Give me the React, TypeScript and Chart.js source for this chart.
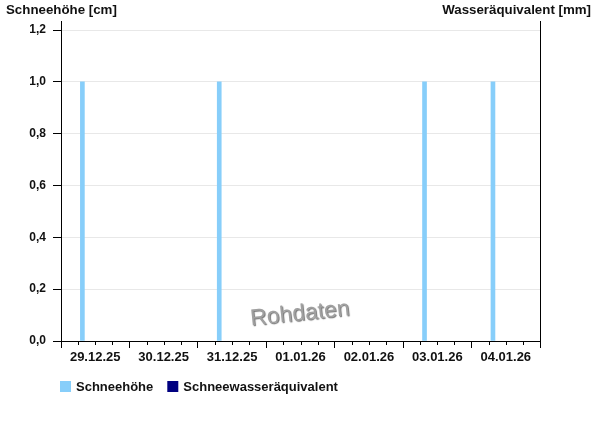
import React, { useEffect, useRef } from "react";
import { Chart, registerables } from "chart.js";

Chart.register(...registerables);

// ---- data ----
const dayLabels = ["29.12.25", "30.12.25", "31.12.25", "01.01.26", "02.01.26", "03.01.26", "04.01.26"];
const measureTimes = ["29.12.25 07:30", "31.12.25 07:30", "03.01.26 07:30", "04.01.26 07:30"];
const snowHeight = [1.0, 1.0, 1.0, 1.0];
const waterEquivalent: number[] = [];
const yTicks = [0, 0.2, 0.4, 0.6, 0.8, 1.0, 1.2];
const leftTitle = "Schneehöhe [cm]";
const rightTitle = "Wasseräquivalent [mm]";
const seriesNames = ["Schneehöhe", "Schneewasseräquivalent"];
const watermark = "Rohdaten";

const FONT = "'Liberation Sans', Arial, Helvetica, sans-serif";

function toHours(s: string): number {
  const [d, t] = s.split(" ");
  const idx = dayLabels.indexOf(d);
  const [hh, mm] = t.split(":").map(Number);
  return idx * 24 + hh + mm / 60;
}

const overlayPlugin = {
  id: "overlay",
  afterDraw(chart: any) {
    const ctx = chart.ctx as CanvasRenderingContext2D;
    const area = chart.chartArea;
    const xs = chart.scales.x;
    ctx.save();
    // minor ticks
    ctx.strokeStyle = "#000";
    ctx.lineWidth = 1;
    xs.ticks.forEach((t: any) => {
      if (t.value % 24 !== 0) {
        const px = Math.round(xs.getPixelForValue(t.value)) + 0.5;
        ctx.beginPath();
        ctx.moveTo(px, area.bottom);
        ctx.lineTo(px, area.bottom + 4);
        ctx.stroke();
      }
    });
    // axis titles
    ctx.fillStyle = "#111";
    ctx.font = `bold 13.3px ${FONT}`;
    ctx.textBaseline = "alphabetic";
    ctx.textAlign = "left";
    ctx.fillText(leftTitle, 6, 14);
    ctx.textAlign = "right";
    ctx.fillText(rightTitle, 591, 14);
    // legend
    ctx.font = `bold 13px ${FONT}`;
    ctx.textAlign = "left";
    ctx.textBaseline = "middle";
    let lx = area.left - 1;
    const ly = area.bottom + 45;
    chart.data.datasets.forEach((ds: any) => {
      ctx.fillStyle = ds.backgroundColor;
      ctx.fillRect(lx, ly - 5, 11, 11);
      ctx.fillStyle = "#111";
      ctx.fillText(ds.label, lx + 16, ly + 1);
      lx += 16 + ctx.measureText(ds.label).width + 14;
    });
    // watermark
    ctx.translate(300, 314);
    ctx.rotate((-6 * Math.PI) / 180);
    ctx.font = `23px ${FONT}`;
    ctx.textAlign = "center";
    ctx.textBaseline = "middle";
    ctx.shadowColor = "rgba(0,0,0,0.55)";
    ctx.shadowOffsetX = 1;
    ctx.shadowOffsetY = 1;
    ctx.shadowBlur = 1;
    ctx.fillStyle = "#a0a0a0";
    ctx.fillText(watermark, 0, 0);
    ctx.restore();
  },
};

export default function App() {
  const ref = useRef<HTMLCanvasElement>(null);

  useEffect(() => {
    if (!ref.current) return;
    const snowData = measureTimes.map((t, i) => ({ x: toHours(t), y: snowHeight[i] }));
    const weData = waterEquivalent.map((v, i) => ({ x: toHours(measureTimes[i]), y: v }));
    const chart = new Chart(ref.current, {
      type: "bar",
      data: {
        datasets: [
          {
            label: seriesNames[0],
            data: snowData,
            backgroundColor: "#87CEFA",
            borderWidth: 0,
            barThickness: 4,
            grouped: false,
            xAxisID: "x",
            yAxisID: "y",
          },
          {
            label: seriesNames[1],
            data: weData,
            backgroundColor: "#000080",
            borderWidth: 0,
            barThickness: 4,
            grouped: false,
            xAxisID: "x",
            yAxisID: "y1",
          },
        ],
      } as any,
      options: {
        animation: false,
        responsive: false,
        events: [],
        layout: { padding: { top: 21, bottom: 55, left: 0, right: 0 } },
        plugins: { legend: { display: false }, tooltip: { enabled: false }, title: { display: false } },
        scales: {
          x: {
            type: "linear",
            min: 0,
            max: dayLabels.length * 24,
            offset: false,
            grid: {
              offset: false,
              drawOnChartArea: false,
              drawTicks: true,
              tickLength: 7,
              tickColor: (c: any) => (c.tick && c.tick.value % 24 === 0 ? "#000" : "rgba(0,0,0,0)"),
            },
            border: { display: true, color: "#000", width: 1 },
            ticks: {
              stepSize: 6,
              autoSkip: false,
              maxRotation: 0,
              minRotation: 0,
              padding: 2,
              color: "#111",
              font: { family: FONT, size: 13, weight: "bold" },
              callback: (v: any) => {
                const n = Number(v);
                if (n % 24 === 12) return dayLabels[Math.floor(n / 24)] ?? "";
                return "";
              },
            },
            afterFit: (s: any) => {
              s.height = 30;
            },
          },
          y: {
            type: "linear",
            position: "left",
            min: 0,
            max: 1.235,
            grid: {
              color: "#e8e8e8",
              tickColor: "#000",
              tickLength: 8,
              drawTicks: true,
            },
            border: { display: true, color: "#000", width: 1 },
            ticks: {
              stepSize: 0.2,
              padding: 7,
              color: "#111",
              font: { family: FONT, size: 12, weight: "bold" },
              callback: (v: any) => Number(v).toFixed(1).replace(".", ","),
            },
            afterBuildTicks: (s: any) => {
              s.ticks = yTicks.map((v) => ({ value: v }));
            },
            afterFit: (s: any) => {
              s.width = 61;
            },
          },
          y1: {
            type: "linear",
            position: "right",
            min: 0,
            max: 1,
            grid: { display: false, drawTicks: false },
            border: { display: true, color: "#000", width: 1 },
            ticks: { display: false },
            afterFit: (s: any) => {
              s.width = 60;
            },
          },
        },
      } as any,
      plugins: [overlayPlugin],
    });
    return () => chart.destroy();
  }, []);

  return (
    <div style={{ position: "fixed", left: 0, top: 0, width: 600, height: 426, background: "#fff" }}>
      <canvas ref={ref} width={600} height={426} style={{ display: "block" }} />
    </div>
  );
}
